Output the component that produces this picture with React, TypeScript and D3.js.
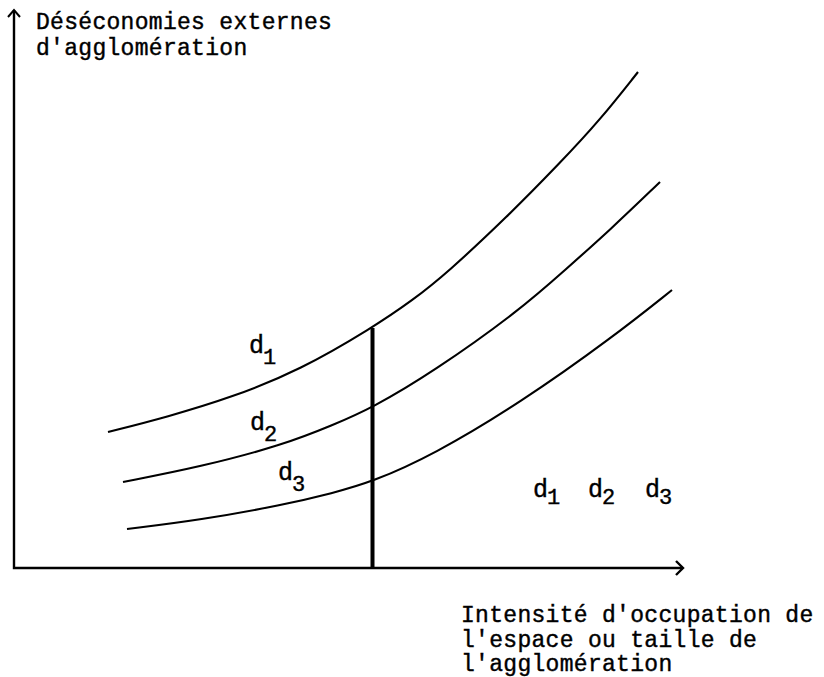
import React from "react";
import * as d3 from "d3";

// Curve data (x: space occupation intensity, y: external diseconomies), arbitrary units
const d1X = [9.4, 15.3, 21.9, 28.6, 35.8, 39.9, 43.3, 49.3, 54.6, 58.6, 62.4];
const d1Y = [13.6, 15.1, 17.1, 19.8, 24.0, 26.8, 29.5, 35.1, 40.5, 44.8, 49.6];
const d2X = [10.9, 18.6, 26.9, 31.9, 35.8, 41.9, 50.6, 55.1, 59.6, 64.6];
const d2Y = [8.6, 10.1, 12.3, 14.3, 16.0, 19.6, 25.8, 29.8, 33.8, 38.6];
const d3X = [11.3, 18.6, 26.9, 31.9, 35.8, 41.9, 50.6, 59.9, 65.8];
const d3Y = [3.9, 4.8, 6.3, 7.5, 8.6, 11.3, 16.5, 23.1, 27.8];

const curveNames = ["d1", "d2", "d3"];
const curveSubs = ["1", "2", "3"];
// in-chart label anchors (data units)
const labelX = [23.5, 23.6, 26.4];
const labelY = [21.5, 13.8, 8.8];
// legend-like labels at right
const legendX = [51.9, 57.4, 63.1];
const legendY = [7.1, 7.1, 7.1];

const markerX = 35.85;
const markerTopY = 24.0;

const yTitle = ["Déséconomies externes", "d'agglomération"];
const xTitle = ["Intensité d'occupation de", "l'espace ou taille de", "l'agglomération"];

const X_MAX = 66.9;
const Y_MAX = 55.8;

const W = 824;
const H = 677;

export default function App() {
  const x = d3.scaleLinear().domain([0, 67]).range([14, 684]);
  const y = d3.scaleLinear().domain([0, 56]).range([568, 8]);

  const series = [
    d1X.map((v, i) => [v, d1Y[i]] as [number, number]),
    d2X.map((v, i) => [v, d2Y[i]] as [number, number]),
    d3X.map((v, i) => [v, d3Y[i]] as [number, number]),
  ];

  const line = d3
    .line<[number, number]>()
    .x((d) => x(d[0]))
    .y((d) => y(d[1]))
    .curve(d3.curveBasis);

  const font = "'Liberation Mono', 'Courier New', monospace";
  const x0 = x(0);
  const y0 = y(0);
  const xEnd = x(X_MAX);
  const yEnd = y(Y_MAX);

  return (
    <svg
      width={W}
      height={H}
      style={{ position: "absolute", left: 0, top: 0, background: "#fff" }}
    >
      <rect width={W} height={H} fill="#fff" />
      {/* axes */}
      <path
        d={`M${x0},${yEnd} L${x0},${y0} L${xEnd},${y0}`}
        fill="none"
        stroke="#000"
        strokeWidth={2.4}
      />
      <path
        d={`M${x0 - 6},${yEnd + 7} L${x0},${yEnd} L${x0 + 6},${yEnd + 7}`}
        fill="none"
        stroke="#000"
        strokeWidth={2}
      />
      <path
        d={`M${xEnd - 7},${y0 - 7} L${xEnd},${y0} L${xEnd - 7},${y0 + 7}`}
        fill="none"
        stroke="#000"
        strokeWidth={2.4}
      />

      {/* curves */}
      {series.map((s, i) => (
        <path key={i} d={line(s) || ""} fill="none" stroke="#000" strokeWidth={2.1} />
      ))}

      {/* vertical marker */}
      <line
        x1={x(markerX)}
        x2={x(markerX)}
        y1={y(markerTopY)}
        y2={y0}
        stroke="#000"
        strokeWidth={4}
      />

      {/* curve labels */}
      {curveNames.map((n, i) => (
        <text
          key={n}
          x={x(labelX[i])}
          y={y(labelY[i])}
          fontFamily={font}
          fontSize={25}
          fill="#000"
          stroke="#000"
          strokeWidth={0.4}
        >
          d
          <tspan dx={-1} dy={11} fontSize={22}>
            {curveSubs[i]}
          </tspan>
        </text>
      ))}
      {curveNames.map((n, i) => (
        <text
          key={"l" + n}
          x={x(legendX[i])}
          y={y(legendY[i])}
          fontFamily={font}
          fontSize={25}
          fill="#000"
          stroke="#000"
          strokeWidth={0.4}
        >
          d
          <tspan dx={-1} dy={7} fontSize={22}>
            {curveSubs[i]}
          </tspan>
        </text>
      ))}

      {/* axis titles */}
      <text
        fontFamily={font}
        fontSize={23}
        letterSpacing={0.3}
        fill="#000"
        stroke="#000"
        strokeWidth={0.4}
      >
        {yTitle.map((t, i) => (
          <tspan key={i} x={36} y={29 + i * 26}>
            {t}
          </tspan>
        ))}
      </text>
      <text
        fontFamily={font}
        fontSize={23}
        letterSpacing={0.3}
        fill="#000"
        stroke="#000"
        strokeWidth={0.4}
      >
        {xTitle.map((t, i) => (
          <tspan key={i} x={461} y={622 + i * 24.5}>
            {t}
          </tspan>
        ))}
      </text>
    </svg>
  );
}
